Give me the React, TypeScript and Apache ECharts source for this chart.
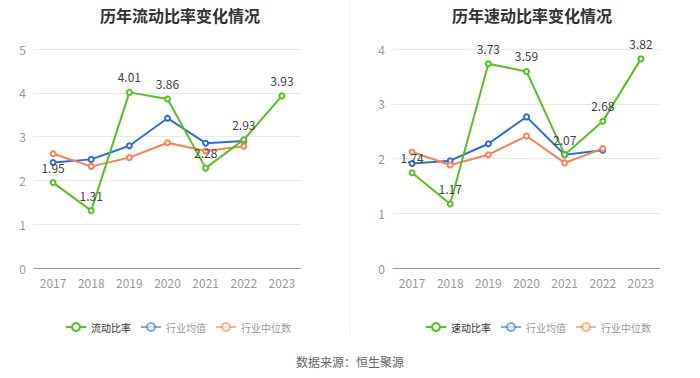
import React, { useEffect, useRef } from "react";
import * as echarts from "echarts";

const years = ["2017", "2018", "2019", "2020", "2021", "2022", "2023"];
const currentRatio = [1.95, 1.31, 4.01, 3.86, 2.28, 2.93, 3.93];
const currentMean = [2.41, 2.48, 2.79, 3.42, 2.85, 2.9, null];
const currentMedian = [2.61, 2.32, 2.52, 2.86, 2.67, 2.78, null];
const quickRatio = [1.74, 1.17, 3.73, 3.59, 2.07, 2.68, 3.82];
const quickMean = [1.91, 1.96, 2.27, 2.76, 2.07, 2.15, null];
const quickMedian = [2.12, 1.88, 2.07, 2.41, 1.92, 2.18, null];

const GREEN = "#52C41A";
const BLUE = "#2B6DE5";
const ORANGE = "#FF7F50";

export default function App() {
  const ref = useRef<HTMLDivElement>(null);
  useEffect(() => {
    document.body.style.margin = "0";
    const chart = echarts.init(ref.current!, null, { renderer: "svg" });
    const font = "'Microsoft YaHei', 'Noto Sans CJK SC', sans-serif";
    const xAxis = (gi: number) => ({
      type: "category",
      gridIndex: gi,
      data: years,
      boundaryGap: true,
      axisLine: { lineStyle: { color: "#999" } },
      axisTick: { show: false },
      axisLabel: { color: "#999", fontSize: 12, margin: 8 },
    });
    const yAxis = (gi: number, max: number) => ({
      type: "value",
      gridIndex: gi,
      min: 0,
      max,
      interval: 1,
      axisLine: { show: false },
      axisTick: { show: false },
      axisLabel: { color: "#999", fontSize: 12, margin: 8 },
      splitLine: { lineStyle: { color: "#E6E9F2" } },
    });
    const line = (name: string, data: any[], color: string, gi: number, label: boolean) => ({
      name,
      type: "line",
      xAxisIndex: gi,
      yAxisIndex: gi,
      data,
      symbol: "emptyCircle",
      symbolSize: 5,
      lineStyle: { color, width: 2 },
      itemStyle: { color },
      z: label ? 3 : 2,
      label: label
        ? { show: true, position: "top", color: "#444", fontSize: 12, distance: 6 }
        : { show: false },
    });
    const legendItems = (first: string) => [
      { name: first, textStyle: { color: "#333" } },
      { name: "行业均值", textStyle: { color: "#999" }, itemStyle: { opacity: 0.6 }, lineStyle: { opacity: 0.6 } },
      { name: "行业中位数", textStyle: { color: "#999" }, itemStyle: { opacity: 0.6 }, lineStyle: { opacity: 0.6 } },
    ];
    const legendBase = { top: 317, itemWidth: 20, itemHeight: 10, itemGap: 9, textStyle: { fontSize: 10 } };
    chart.setOption({
      animation: false,
      textStyle: { fontFamily: font },
      title: [
        { text: "历年流动比率变化情况", left: 175, top: 2, textAlign: "center", textStyle: { fontSize: 16, fontWeight: "bold", color: "#333" } },
        { text: "历年速动比率变化情况", left: 527, top: 2, textAlign: "center", textStyle: { fontSize: 16, fontWeight: "bold", color: "#333" } },
      ],
      legend: [
        { ...legendBase, data: legendItems("流动比率"), left: 60 },
        { ...legendBase, data: legendItems("速动比率"), left: 420 },
      ],
      grid: [
        { left: 34, top: 49, width: 267, bottom: 110 },
        { left: 393, top: 49, width: 267, bottom: 110 },
      ],
      xAxis: [xAxis(0), xAxis(1)],
      yAxis: [yAxis(0, 5), yAxis(1, 4)],
      series: [
        line("行业均值", currentMean, BLUE, 0, false),
        line("行业中位数", currentMedian, ORANGE, 0, false),
        line("流动比率", currentRatio, GREEN, 0, true),
        line("行业均值", quickMean, BLUE, 1, false),
        line("行业中位数", quickMedian, ORANGE, 1, false),
        line("速动比率", quickRatio, GREEN, 1, true),
      ],
      graphic: [
        { type: "line", shape: { x1: 350, y1: 0, x2: 350, y2: 335 }, style: { stroke: "#EEEEEE", lineWidth: 1 } },
        { type: "text", x: 350, y: 355, style: { text: "数据来源：恒生聚源", fill: "#666", fontSize: 12, textAlign: "center", fontFamily: font } },
      ],
    });
    return () => chart.dispose();
  }, []);
  return <div ref={ref} style={{ width: 700, height: 378 }} />;
}
